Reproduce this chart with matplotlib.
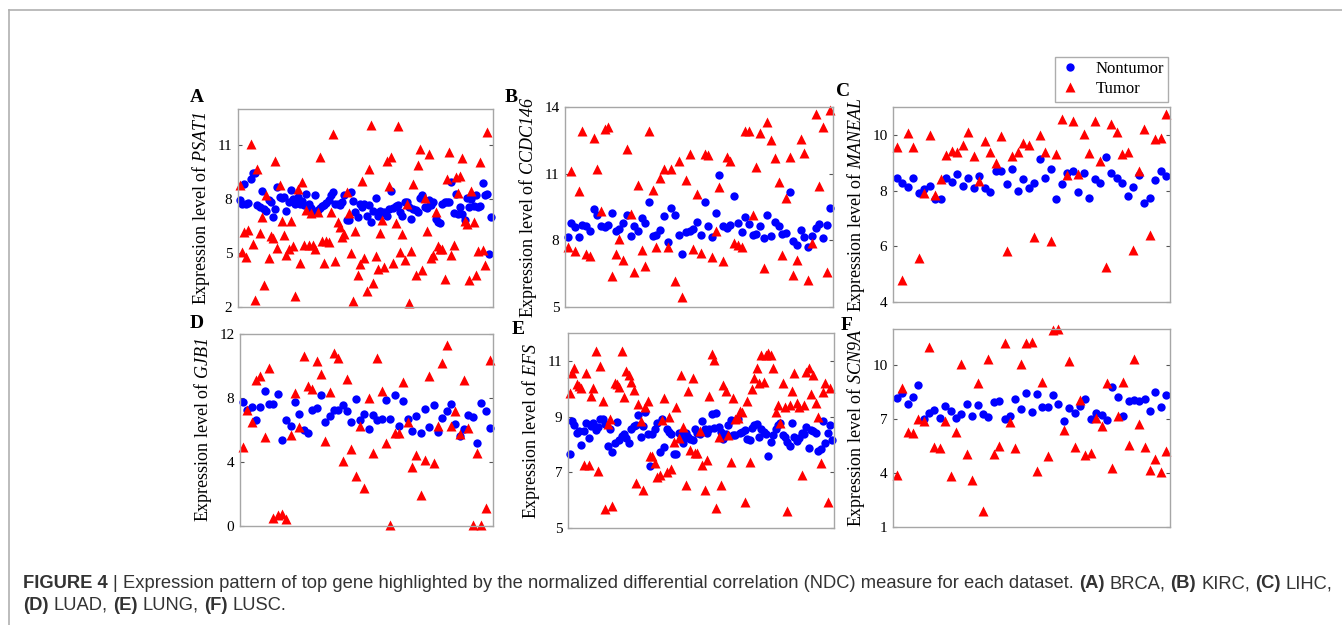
import numpy as np
import matplotlib
matplotlib.use("Agg")
import matplotlib.pyplot as plt
from matplotlib.lines import Line2D

plt.rcParams['mathtext.fontset'] = 'custom'
plt.rcParams['mathtext.rm'] = 'Liberation Serif:italic'
plt.rcParams['mathtext.it'] = 'Liberation Serif:italic'
plt.rcParams['font.family'] = ['Liberation Serif', 'DejaVu Serif']

# ---- data ----
a_nontumor = [7.94, 7.7, 8.86, 7.75, 7.8, 9.12, 9.42, 9.42, 7.64, 7.57, 8.44, 7.45, 7.32, 7.97, 7.83, 7.0,
              7.42, 8.68, 8.12, 8.07, 8.12, 7.32, 7.83, 8.5, 8.0, 7.7, 8.12, 7.7, 7.88, 7.64, 8.3, 7.75,
              7.5, 7.36, 8.2, 7.38, 7.5, 7.6, 7.64, 7.8, 7.94, 8.25, 8.4, 7.75, 7.7, 7.64, 7.84, 8.2,
              6.82, 6.86, 8.38, 7.88, 7.27, 7.0, 7.7, 7.57, 7.75, 7.08, 7.64, 6.7, 7.32, 8.05, 7.08, 7.32,
              7.2, 7.27, 7.05, 7.45, 8.44, 7.5, 7.6, 7.64, 7.27, 7.08, 7.86, 7.86, 7.53, 6.9, 7.45, 7.38,
              7.27, 8.07, 8.25, 7.57, 7.5, 7.94, 7.64, 7.83, 6.9, 6.7, 6.64, 7.7, 7.83, 7.83, 7.83, 8.94,
              7.2, 8.3, 7.14, 7.57, 7.14, 6.86, 8.03, 7.57, 8.0, 7.6, 8.2, 7.57, 7.6, 8.9, 8.25, 8.3,
              4.97, 7.0]
a_tumor = [8.8, 5.04, 6.16, 4.76, 6.27, 11.04, 5.5, 2.4, 9.65, 6.1, 7.0, 3.2, 8.2, 4.7, 5.95, 5.85,
           10.1, 5.3, 8.8, 6.8, 6.0, 4.9, 5.25, 6.77, 5.4, 2.63, 8.53, 4.45, 8.97, 5.45, 7.4, 5.45,
           7.2, 5.45, 5.2, 7.3, 10.35, 5.67, 4.45, 5.67, 5.6, 7.27, 11.6, 4.54, 6.7, 6.45, 5.9, 6.04,
           8.38, 7.2, 5.0, 2.32, 6.25, 3.76, 4.4, 9.0, 4.7, 2.9, 9.65, 12.1, 3.34, 4.82, 4.1, 6.1,
           6.86, 4.2, 10.1, 8.7, 10.33, 4.45, 6.68, 12.05, 5.08, 6.06, 4.63, 7.75, 2.22, 5.1, 8.85, 3.8,
           9.9, 10.8, 4.04, 8.05, 6.2, 10.48, 4.7, 4.9, 7.3, 5.37, 5.2, 5.23, 3.56, 9.1, 10.6, 4.9,
           5.47, 9.2, 8.35, 9.27, 10.3, 6.77, 6.6, 3.52, 8.47, 6.7, 3.78, 5.1, 10.05, 5.15, 4.36, 11.74]

b_nontumor = [8.13, 8.77, 8.62, 8.13, 8.71, 8.63, 8.4, 9.42, 9.16, 8.66, 8.59, 8.69, 9.22, 8.43, 8.52, 8.77,
              9.13, 8.2, 8.63, 8.4, 9.0, 8.77, 9.73, 8.2, 8.25, 8.46, 9.1, 7.92, 9.46, 9.16, 8.25, 7.4,
              8.37, 8.4, 8.5, 8.84, 8.25, 9.72, 8.66, 8.13, 9.25, 10.93, 8.63, 8.56, 8.71, 10.0, 8.8, 8.36,
              9.04, 8.74, 8.25, 8.28, 8.63, 8.09, 9.12, 8.2, 8.81, 8.66, 8.28, 8.34, 10.17, 7.98, 7.78, 8.45,
              8.16, 7.68, 8.18, 8.56, 8.74, 8.1, 8.68, 9.45]
b_tumor = [7.72, 11.13, 7.5, 10.2, 12.94, 7.37, 7.3, 12.6, 11.22, 9.34, 13.02, 13.1, 6.39, 7.4, 8.07, 7.1,
           12.1, 9.19, 6.56, 10.5, 7.56, 6.86, 12.93, 10.26, 7.72, 10.82, 11.22, 7.72, 11.22, 6.16, 11.58, 5.44,
           10.73, 11.88, 7.59, 10.08, 7.44, 11.88, 11.82, 7.25, 8.4, 10.4, 7.06, 11.76, 11.58, 7.87, 7.77, 7.72,
           12.94, 12.9, 9.16, 11.3, 12.82, 6.77, 13.32, 12.52, 11.72, 10.63, 7.35, 9.92, 11.73, 6.42, 7.13, 12.55,
           11.94, 6.2, 7.9, 13.7, 10.46, 13.08, 6.59, 13.85]

c_nontumor = [8.45, 8.26, 8.14, 8.44, 7.9, 8.05, 8.15, 7.7, 7.7, 8.45, 8.3, 8.59, 8.18, 8.44, 8.08, 8.53,
              8.09, 7.94, 8.69, 8.69, 8.24, 8.77, 7.97, 8.4, 8.08, 8.26, 9.13, 8.44, 8.79, 7.7, 8.24, 8.63,
              8.69, 7.94, 8.63, 7.73, 8.4, 8.26, 9.21, 8.64, 8.45, 8.26, 7.8, 8.12, 8.55, 7.54, 7.73, 8.38,
              8.71, 8.53]
c_tumor = [9.58, 4.8, 10.06, 9.58, 5.59, 7.9, 10.0, 7.85, 8.42, 9.29, 9.43, 9.39, 9.64, 10.12, 9.23, 8.36,
           9.79, 9.39, 9.0, 9.95, 5.83, 9.23, 9.39, 9.69, 9.63, 6.35, 10.0, 9.39, 6.18, 9.33, 10.58, 8.57,
           10.5, 8.6, 10.03, 9.36, 10.5, 9.07, 5.25, 10.38, 10.12, 9.33, 9.39, 5.87, 8.71, 10.2, 6.39, 9.85,
           9.9, 10.74]

d_nontumor = [7.75, 7.27, 7.43, 6.6, 7.43, 8.42, 7.62, 7.62, 8.27, 5.38, 6.64, 6.22, 7.73, 7.0, 6.01, 5.8,
              7.27, 7.37, 8.21, 6.53, 6.85, 7.23, 7.23, 7.54, 7.16, 6.47, 7.96, 6.64, 6.97, 6.05, 6.91, 6.64,
              6.7, 7.85, 6.68, 8.21, 6.26, 7.79, 6.68, 5.95, 6.85, 5.8, 7.31, 6.16, 7.56, 5.9, 6.72, 7.2,
              7.62, 6.39, 5.63, 6.05, 6.95, 6.81, 5.21, 7.69, 7.2, 6.12]
d_tumor = [4.92, 7.27, 6.53, 9.15, 9.36, 5.59, 9.88, 0.5, 0.67, 0.73, 0.42, 5.7, 8.31, 6.16, 10.62, 8.77,
           8.59, 10.3, 9.5, 5.3, 8.38, 10.83, 10.51, 4.08, 9.21, 4.82, 3.14, 6.26, 2.35, 8.0, 4.54, 10.47,
           8.42, 5.17, 0.08, 5.8, 5.8, 8.98, 6.53, 3.71, 4.44, 1.93, 4.13, 9.36, 3.92, 6.22, 10.2, 11.29,
           6.22, 7.2, 5.74, 9.15, 6.12, 0.08, 4.59, 0.08, 1.13, 10.35]

e_nontumor = [7.67, 8.84, 8.69, 8.42, 8.48, 7.97, 8.5, 8.76, 8.24, 8.66, 8.76, 8.52, 8.64, 8.9, 8.93, 8.72,
              7.94, 8.54, 7.73, 8.04, 8.8, 8.16, 8.3, 8.36, 8.24, 8.04, 8.57, 8.66, 8.69, 9.05, 8.28, 8.66,
              9.17, 8.36, 7.22, 8.36, 8.57, 8.78, 7.73, 8.93, 7.9, 8.57, 8.45, 8.36, 7.64, 7.64, 8.4, 8.18,
              8.04, 8.42, 8.28, 8.21, 8.16, 8.57, 8.42, 8.36, 8.84, 8.57, 8.42, 8.57, 9.08, 8.6, 9.12, 8.64,
              8.45, 8.21, 8.36, 8.69, 8.88, 8.33, 8.33, 8.93, 8.42, 8.45, 8.52, 8.18, 8.16, 8.6, 8.69, 8.72,
              8.28, 8.54, 8.45, 8.36, 7.6, 8.08, 8.33, 8.57, 8.69, 8.76, 8.33, 8.28, 8.08, 7.94, 8.76, 8.28,
              8.12, 8.24, 8.42, 8.36, 8.64, 7.88, 8.52, 8.48, 8.42, 7.76, 7.84, 8.84, 8.04, 8.4, 8.69, 8.16]
e_tumor = [9.86, 10.56, 10.76, 10.16, 10.1, 10.04, 7.26, 10.56, 7.26, 9.74, 10.04, 11.34, 7.04, 10.82, 9.56, 5.68,
           8.72, 8.9, 5.8, 10.22, 10.16, 10.07, 11.36, 9.72, 10.62, 10.49, 10.25, 9.96, 6.62, 9.44, 8.84, 6.38,
           9.36, 9.56, 7.58, 7.58, 7.34, 6.84, 6.92, 8.88, 9.66, 7.0, 9.0, 7.12, 8.08, 9.36, 8.24, 10.49,
           8.64, 6.56, 9.92, 7.79, 10.37, 7.7, 7.7, 8.48, 7.26, 6.36, 7.44, 9.74, 11.24, 11.04, 5.72, 8.28,
           6.56, 10.13, 9.92, 8.33, 7.36, 9.66, 8.9, 8.96, 9.2, 9.16, 5.92, 9.56, 7.36, 9.98, 10.37, 10.76,
           10.19, 11.22, 10.25, 11.22, 11.27, 11.22, 10.73, 9.16, 9.4, 8.76, 10.2, 9.36, 5.6, 9.4, 9.92, 10.56,
           9.5, 9.36, 6.92, 9.4, 10.61, 10.76, 9.8, 10.49, 9.48, 9.0, 7.32, 9.89, 10.22, 5.92, 10.04]

f_nontumor = [8.19, 8.43, 7.82, 8.25, 8.89, 7.0, 7.36, 7.51, 7.08, 7.73, 7.45, 7.08, 7.28, 7.82, 7.14, 7.77,
              7.27, 7.1, 7.97, 8.02, 6.99, 7.14, 8.12, 7.56, 8.43, 7.41, 8.38, 7.65, 7.65, 8.34, 7.84, 6.9,
              7.6, 7.32, 7.75, 8.12, 6.99, 7.32, 7.23, 6.95, 8.76, 8.25, 7.19, 8.02, 8.06, 8.02, 8.12, 7.47,
              8.49, 7.65, 8.34]
f_tumor = [3.9, 8.75, 6.3, 6.21, 6.99, 6.91, 11.02, 5.44, 5.38, 6.9, 3.81, 6.3, 10.06, 5.05, 3.62, 9.02,
           1.87, 10.32, 5.05, 5.51, 11.2, 6.86, 5.38, 10.06, 11.2, 11.3, 4.12, 9.08, 4.96, 11.94, 11.98, 6.4,
           10.22, 5.44, 8.06, 5.01, 5.1, 7.08, 6.62, 9.02, 4.27, 7.14, 9.08, 5.57, 10.32, 6.73, 5.44, 4.18,
           4.77, 4.03, 5.2]

panels = [
    ('A', 'PSAT1', a_nontumor, a_tumor, (2, 13), [2, 5, 8, 11]),
    ('B', 'CCDC146', b_nontumor, b_tumor, (5, 14), [5, 8, 11, 14]),
    ('C', 'MANEAL', c_nontumor, c_tumor, (4, 11), [4, 6, 8, 10]),
    ('D', 'GJB1', d_nontumor, d_tumor, (0, 12), [0, 4, 8, 12]),
    ('E', 'EFS', e_nontumor, e_tumor, (5, 12), [5, 7, 9, 11]),
    ('F', 'SCN9A', f_nontumor, f_tumor, (1, 12), [1, 4, 7, 10]),
]

W, H = 1342, 625
# axes boxes in pixels: left, top, right, bottom
boxes = [(238, 109, 493, 307), (565, 107, 833, 307), (893, 107, 1170, 302),
         (240, 334, 493, 526), (568, 333, 834, 528), (893, 329, 1170, 527)]
letter_pos = [(197, 97), (511, 97), (843, 92), (197, 323), (518, 330), (847, 326)]

fig = plt.figure(figsize=(W / 100, H / 100), dpi=100)
frame_col = '#a6a6a6'

handles = None
for (letter, gene, nt, tu, ylim, yt), (l, t, r, b), (lx, ly) in zip(panels, boxes, letter_pos):
    ax = fig.add_axes([l / W, 1 - b / H, (r - l) / W, (b - t) / H])
    n = max(len(nt), len(tu))
    h1, = ax.plot(np.arange(1, len(nt) + 1), nt, 'o', color='#0000ff', ms=6.0, mec='none', clip_on=False)
    h2, = ax.plot(np.arange(1, len(tu) + 1), tu, '^', color='#ff0000', ms=7.0, mec='none', clip_on=False)
    handles = [h1, h2]
    ax.set_xlim(0.3, n + 0.7)
    ax.set_ylim(*ylim)
    ax.set_yticks(yt)
    ax.set_xticks([])
    ax.tick_params(axis='y', direction='in', length=3, left=True, right=True,
                   labelsize=11, color='#555555', pad=4)
    for s in ax.spines.values():
        s.set_color(frame_col)
        s.set_linewidth(1.0)
    ax.set_ylabel('Expression level of $' + gene + '$', fontsize=13, labelpad=4)
    fig.text(lx / W, 1 - ly / H, letter, fontsize=14, fontweight='bold',
             ha='center', va='center')

leg = fig.legend(handles, ['Nontumor', 'Tumor'], loc='upper right',
                 bbox_to_anchor=(1168 / W, 1 - 57 / H), frameon=True, fancybox=False,
                 edgecolor='#999999', fontsize=12, borderpad=0.25, labelspacing=0.25,
                 handletextpad=0.8, handlelength=1.4, borderaxespad=0)
leg.get_frame().set_linewidth(1.0)

# figure border lines
fig.add_artist(Line2D([9 / W, 1], [1 - 10 / H, 1 - 10 / H], color='#b0b0b0', lw=1.2))
fig.add_artist(Line2D([9 / W, 9 / W], [0, 1 - 10 / H], color='#b0b0b0', lw=1.2))

# caption with mixed bold/regular runs
renderer = fig.canvas.get_renderer()
cap_kw = dict(family=['Liberation Sans', 'DejaVu Sans'], fontsize=13.2, color='#333333', va='center')


def text_width(s, weight):
    t = fig.text(0, 0, s, fontweight=weight, **cap_kw)
    w = t.get_window_extent(renderer).width
    t.remove()
    return w


space = text_width('x x', 'normal') - text_width('xx', 'normal')

line1 = [('FIGURE 4', 'bold'), ('|', 'normal'),
         ('Expression pattern of top gene highlighted by the normalized differential '
          'correlation (NDC) measure for each dataset.', 'normal'),
         ('(A)', 'bold'), ('BRCA,', 'normal'), ('(B)', 'bold'), ('KIRC,', 'normal'),
         ('(C)', 'bold'), ('LIHC,', 'normal')]
line2 = [('(D)', 'bold'), ('LUAD,', 'normal'), ('(E)', 'bold'), ('LUNG,', 'normal'),
         ('(F)', 'bold'), ('LUSC.', 'normal')]

for runs, ypix in [(line1, 584), (line2, 605)]:
    x = 23
    for s, wgt in runs:
        t = fig.text(x / W, 1 - ypix / H, s, fontweight=wgt, **cap_kw)
        x += t.get_window_extent(renderer).width + space

fig.savefig('out.png', dpi=100)
